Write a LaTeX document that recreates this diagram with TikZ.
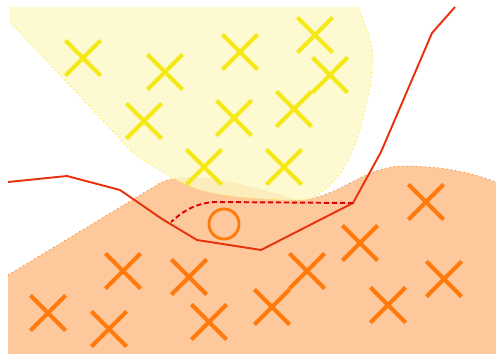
\documentclass[tikz,border=0pt]{standalone}
\usepackage{tikz}
\usetikzlibrary{shapes.misc}

\definecolor{peach}{RGB}{253,200,156}
\definecolor{paleyellow}{RGB}{252,247,196}
\definecolor{crossyellow}{RGB}{246,232,22}
\definecolor{crossorange}{RGB}{255,122,10}
\definecolor{boundred}{RGB}{232,50,14}

\begin{document}
\begin{tikzpicture}[x=0.02cm, y=-0.02cm,
  ycross/.style={cross out, draw=crossyellow, line width=2.3pt, minimum size=0.62cm, inner sep=0pt},
  ocross/.style={cross out, draw=crossorange, line width=2.3pt, minimum size=0.62cm, inner sep=0pt},
  ring/.style={circle, draw=crossorange, line width=1.6pt, minimum size=0.6cm, inner sep=0pt},
  region/.style={line width=0.5pt, dotted},
  boundary/.style={draw=boundred, line width=1.1pt},
  guess/.style={draw=red!90!black, line width=1.1pt, dash pattern=on 0.1cm off 0.06cm}]
  \useasboundingbox (0,0) rectangle (496,354);

  % class regions
  \fill[peach] (8,354) -- (8,275) -- (160,183) .. controls (185,170) and (240,182) .. (295,200)
    .. controls (340,200) and (360,166) .. (405,166) .. controls (450,166) and (480,176) .. (496,182)
    -- (496,354) -- cycle;
  \draw[region, draw=crossorange] (8,275) -- (160,183) .. controls (185,170) and (240,182) .. (295,200)
    .. controls (340,200) and (360,166) .. (405,166) .. controls (450,166) and (480,176) .. (496,182);
  \fill[paleyellow, opacity=0.8] (10,7) -- (10,22)
    -- plot[smooth, tension=0.6] coordinates {(133,153) (200,190) (290,200) (322,192) (353,150) (373,63) (358,7)}
    -- cycle;
  \draw[region, draw=crossyellow] (10,22)
    -- plot[smooth, tension=0.6] coordinates {(133,153) (200,190) (290,200) (322,192) (353,150) (373,63) (358,7)};

  \foreach \name/\pos in {y1/{(83,58)}, y2/{(165,72)}, y3/{(240,52)}, y4/{(315,35)}, y5/{(330,75)},
      y6/{(144,121)}, y7/{(234,118)}, y8/{(294,109)}, y9/{(204,167)}, y10/{(284,167)}}
    \node[ycross] (\name) at \pos {};

  \foreach \name/\pos in {o1/{(426,202)}, o2/{(360,243)}, o3/{(123,271)}, o4/{(189,277)}, o5/{(307,271)},
      o6/{(444,279)}, o7/{(48,313)}, o8/{(109,329)}, o9/{(209,322)}, o10/{(272,307)}, o11/{(388,305)}}
    \node[ocross] (\name) at \pos {};

  \node[ring] (query) at (224,224) {};

  % decision boundaries
  \coordinate (bl) at (8,182);
  \coordinate (bt) at (455,7);
  \coordinate (kink) at (353,203);
  \coordinate (dend) at (171,222);
  \draw[boundary] (bl) -- (67,176) -- (120,190) -- (162,219) -- (197,240) -- (261,250) -- (kink)
    -- (381,152) -- (432,33) -- (bt);
  \draw[guess] (kink) -- (215,202) .. controls (195,203) and (182,212) .. (dend);
\end{tikzpicture}
\end{document}
